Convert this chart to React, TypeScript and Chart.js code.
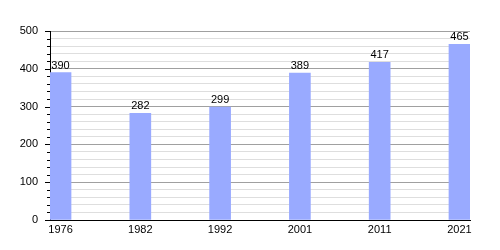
import React, { useEffect, useRef } from "react";
import { Chart, registerables } from "chart.js";

Chart.register(...registerables);

const years = ["1976", "1982", "1992", "2001", "2011", "2021"];
const population = [390, 282, 299, 389, 417, 465];
const yTicks = [0, 100, 200, 300, 400, 500];

const FONT = "'Liberation Sans', Arial, sans-serif";

const valueLabels = {
  id: "valueLabels",
  afterDatasetsDraw(chart: any) {
    const ctx = chart.ctx;
    const meta = chart.getDatasetMeta(0);
    ctx.save();
    ctx.font = `11px ${FONT}`;
    ctx.fillStyle = "#000";
    ctx.textAlign = "center";
    ctx.textBaseline = "alphabetic";
    meta.data.forEach((bar: any, i: number) => {
      ctx.fillText(String(population[i]), bar.x, bar.y - 4);
    });
    ctx.restore();
  },
};

const yMinorTicks = {
  id: "yMinorTicks",
  afterDraw(chart: any) {
    const ctx = chart.ctx;
    const y = chart.scales.y;
    const left = chart.chartArea.left;
    ctx.save();
    ctx.strokeStyle = "#000";
    ctx.lineWidth = 1;
    for (let v = 0; v <= 500; v += 20) {
      const py = Math.round(y.getPixelForValue(v)) + 0.5;
      const len = v % 100 === 0 ? 5 : 3;
      ctx.beginPath();
      ctx.moveTo(left - len, py);
      ctx.lineTo(left, py);
      ctx.stroke();
    }
    ctx.restore();
  },
};

export default function App() {
  const ref = useRef<HTMLCanvasElement>(null);
  useEffect(() => {
    if (!ref.current) return;
    const chart = new Chart(ref.current, {
      type: "bar",
      data: {
        datasets: [
          {
            data: population.map((v, i) => ({ x: i, y: v })),
            backgroundColor: "rgb(153,170,255)",
            borderWidth: 0,
            barThickness: 21,
          },
        ],
      },
      options: {
        animation: false,
        responsive: false,
        maintainAspectRatio: false,
        layout: { padding: { left: 0, right: 30, top: 31, bottom: 0 } },
        plugins: { legend: { display: false }, tooltip: { enabled: false } },
        scales: {
          x: {
            type: "linear",
            offset: false,
            min: -0.132,
            max: 5.132,
            afterBuildTicks: (scale: any) => {
              scale.ticks = years.map((_, i) => ({ value: i }));
            },
            afterFit: (scale: any) => {
              scale.height = 30;
            },
            grid: { display: false, drawTicks: false, offset: false },
            border: { display: true, color: "#000", width: 1 },
            ticks: {
              autoSkip: false,
              maxRotation: 0,
              padding: 3,
              color: "#000",
              font: { family: FONT, size: 11 },
              callback: (v: any) => years[v] ?? "",
            },
          },
          y: {
            min: 0,
            max: 500,
            afterBuildTicks: (scale: any) => {
              const t = [];
              for (let v = 0; v <= 500; v += 20) t.push({ value: v });
              scale.ticks = t;
            },
            afterFit: (scale: any) => {
              scale.width = 50;
            },
            grid: {
              drawTicks: false,
              color: (c: any) =>
                c.tick && c.tick.value % 100 === 0 ? "#a0a0a0" : "#dedede",
            },
            border: { display: true, color: "#000", width: 1 },
            ticks: {
              autoSkip: false,
              padding: 12,
              color: "#000",
              font: { family: FONT, size: 11 },
              callback: (v: any) => (yTicks.includes(v) ? String(v) : ""),
            },
          },
        },
      },
      plugins: [valueLabels, yMinorTicks],
    });
    return () => chart.destroy();
  }, []);
  return (
    <div style={{ position: "fixed", left: 0, top: 0, width: 500, height: 250, background: "#fff" }}>
      <canvas ref={ref} width={500} height={250} style={{ width: 500, height: 250 }} />
    </div>
  );
}
